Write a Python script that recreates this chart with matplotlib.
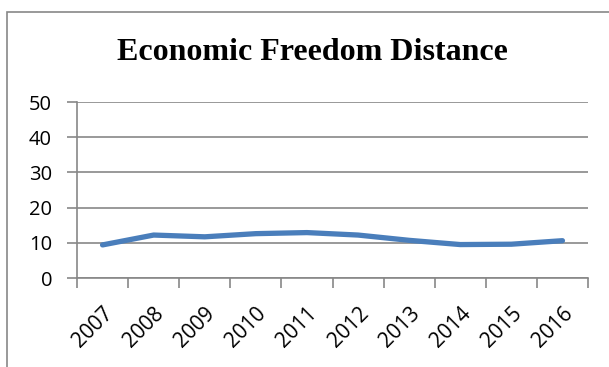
import matplotlib
matplotlib.use("Agg")
import matplotlib.pyplot as plt
from matplotlib.patches import Rectangle
from matplotlib.transforms import ScaledTranslation
import numpy as np

# data
years = ["2007", "2008", "2009", "2010", "2011", "2012", "2013", "2014", "2015", "2016"]
distance = [9.4, 12.2, 11.7, 12.6, 12.9, 12.2, 10.7, 9.5, 9.6, 10.6]
y_ticks = [0, 10, 20, 30, 40, 50]

grey = "#878787"
blue = "#4A7EBB"
tick_font = "Open Sans"

fig = plt.figure(figsize=(6.09, 3.67), dpi=100)
ax = fig.add_axes([77 / 609, 1 - 278 / 367, (588 - 77) / 609, (278 - 102) / 367])

# chart border (cropped on the right and bottom)
fig.patches.append(Rectangle((7 / 609, -0.1), 1.2, 1 - 12 / 367 + 0.1,
                             transform=fig.transFigure, fill=False,
                             edgecolor=grey, linewidth=1.2))

x = np.arange(len(years)) + 0.5
ax.plot(x, distance, color=blue, linewidth=3.8, solid_capstyle="round", zorder=3)

ax.set_xlim(0, len(years))
ax.set_ylim(0, 50)
ax.set_yticks(y_ticks)
ax.set_yticklabels([str(v) for v in y_ticks], fontsize=14.5, family=tick_font)
ax.yaxis.grid(True, color=grey, linewidth=1.2)
ax.set_axisbelow(True)

# category labels at centres, tick marks at the category boundaries
ax.set_xticks(x)
ax.set_xticklabels(years, rotation=45, ha="right", va="top", rotation_mode="anchor",
                   fontsize=15, family=tick_font)
shift = ScaledTranslation(-1 / 72, 0, fig.dpi_scale_trans)
for lab in ax.get_xticklabels():
    lab.set_transform(lab.get_transform() + shift)
ax.set_xticks(np.arange(len(years) + 1), minor=True)
ax.tick_params(axis="x", which="major", length=0, pad=18)
ax.tick_params(axis="x", which="minor", length=7, width=1.2, color=grey)
ax.tick_params(axis="y", length=7, width=1.2, color=grey, pad=11)

for side in ["top", "right"]:
    ax.spines[side].set_visible(False)
for side in ["left", "bottom"]:
    ax.spines[side].set_color(grey)
    ax.spines[side].set_linewidth(1.2)

fig.text(312 / 609, 1 - 53 / 367, "Economic Freedom Distance", ha="center", va="center",
         fontsize=23, fontweight="bold", family="Liberation Serif")

fig.savefig("out.png", dpi=100)
